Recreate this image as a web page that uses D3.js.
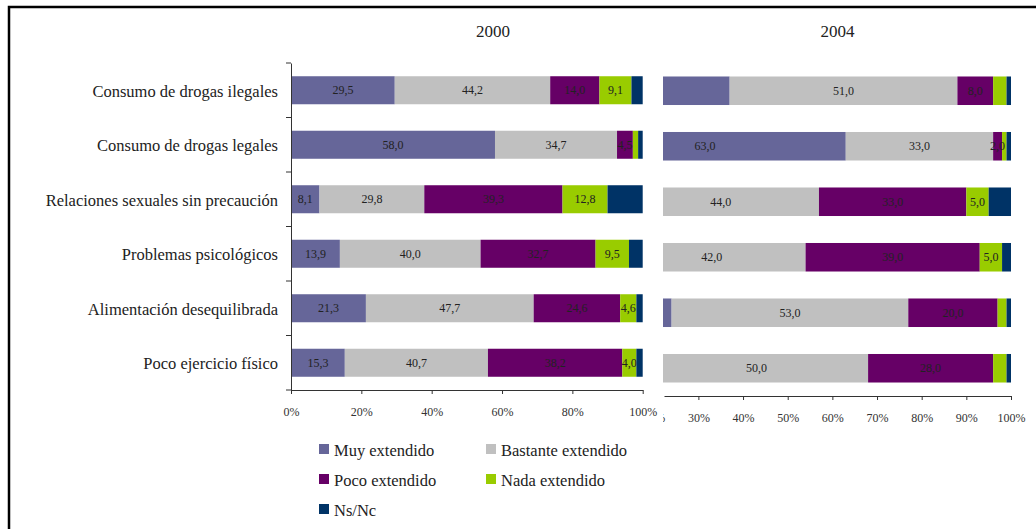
<!DOCTYPE html>
<html>
<head>
<meta charset="utf-8">
<script src="https://cdn.jsdelivr.net/npm/d3@7"></script>
<style>
  html, body { margin: 0; padding: 0; background: #fff; }
  svg { display: block; font-family: "Liberation Serif", "Times New Roman", serif; }
</style>
</head>
<body>
<svg id="chart" width="1036" height="529"></svg>
<script>
// ---------- DATA ----------
const categories = [
  "Consumo de drogas ilegales",
  "Consumo de drogas legales",
  "Relaciones sexuales sin precaución",
  "Problemas psicológicos",
  "Alimentación desequilibrada",
  "Poco ejercicio físico"
];
const seriesNames = ["Muy extendido", "Bastante extendido", "Poco extendido", "Nada extendido", "Ns/Nc"];
const seriesColors = ["#666699", "#C0C0C0", "#660066", "#99CC00", "#003366"];

// 2000 (values per category, per series)
const muy2000      = [29.5, 58.0,  8.1, 13.9, 21.3, 15.3];
const bastante2000 = [44.2, 34.7, 29.8, 40.0, 47.7, 40.7];
const poco2000     = [14.0,  4.5, 39.3, 32.7, 24.6, 38.2];
const nada2000     = [ 9.1,  1.5, 12.8,  9.5,  4.6,  4.0];
const nsnc2000     = [ 3.2,  1.3, 10.0,  3.9,  1.8,  1.8];
// which data labels are printed in 2000 (1 = shown)
const showMuy2000 = [1,1,1,1,1,1], showBas2000 = [1,1,1,1,1,1], showPoco2000 = [1,1,1,1,1,1],
      showNada2000 = [1,0,1,1,1,1], showNs2000 = [0,0,0,0,0,0];

// 2004
const muy2004      = [37, 63, 13, 12, 24, 18];
const bastante2004 = [51, 33, 44, 42, 53, 50];
const poco2004     = [ 8,  2, 33, 39, 20, 28];
const nada2004     = [ 3,  1,  5,  5,  2,  3];
const nsnc2004     = [ 1,  1,  5,  2,  1,  1];
const showMuy2004 = [1,1,1,1,1,1], showBas2004 = [1,1,1,1,1,1], showPoco2004 = [1,1,1,1,1,1],
      showNada2004 = [0,0,1,1,0,0], showNs2004 = [0,0,0,0,0,0];

const ticks2000 = [0, 20, 40, 60, 80, 100];
const ticks2004 = [20, 30, 40, 50, 60, 70, 80, 90, 100];
const years = ["2000", "2004"];

// ---------- BUILD ----------
function buildRows(vals, shows) {
  return categories.map((c, i) => {
    let acc = 0;
    return vals.map((arr, s) => {
      const seg = { cat: c, s, v: arr[i], x0: acc, x1: acc + arr[i], show: shows[s][i] };
      acc += arr[i];
      return seg;
    });
  }).flat();
}
const data2000 = buildRows([muy2000, bastante2000, poco2000, nada2000, nsnc2000],
  [showMuy2000, showBas2000, showPoco2000, showNada2000, showNs2000]);
const data2004 = buildRows([muy2004, bastante2004, poco2004, nada2004, nsnc2004],
  [showMuy2004, showBas2004, showPoco2004, showNada2004, showNs2004]);

const svg = d3.select("#chart");
const fmt = v => d3.format(".1f")(v).replace(".", ",");
const color = d3.scaleOrdinal().domain(d3.range(5)).range(seriesColors);

// outer frame (left and top edges)
svg.append("path")
  .attr("d", "M9,529 L9,7 L1036,7")
  .attr("fill", "none").attr("stroke", "#000").attr("stroke-width", 2.5);

// ---------- PANEL 2000 ----------
const x0 = d3.scaleLinear().domain([0, 100]).range([291, 642.7]);
const y0 = d3.scaleBand().domain(categories).range([63, 390]).paddingInner(0.486).paddingOuter(0.243);

const g0 = svg.append("g");
g0.selectAll("rect").data(data2000).join("rect")
  .attr("x", d => x0(d.x0)).attr("width", d => x0(d.x1) - x0(d.x0))
  .attr("y", d => y0(d.cat)).attr("height", y0.bandwidth())
  .attr("fill", d => color(d.s));
g0.selectAll("text.lab").data(data2000.filter(d => d.show)).join("text")
  .attr("class", "lab")
  .attr("x", d => x0((d.x0 + d.x1) / 2)).attr("y", d => y0(d.cat) + y0.bandwidth() / 2)
  .attr("text-anchor", "middle").attr("dominant-baseline", "central")
  .attr("font-size", 12).attr("fill", "#222").text(d => fmt(d.v));

// axes 2000
const xAxis0 = g0.append("g").attr("transform", "translate(0,390)")
  .call(d3.axisBottom(x0).tickValues(ticks2000).tickSize(4).tickSizeOuter(0).tickFormat(d => d + "%"));
const yAxis0 = g0.append("g").attr("transform", "translate(291,0)")
  .call(d3.axisLeft(y0).tickSize(0).tickFormat(""));
// category separators on y axis
const yTickPos = d3.range(0, 7).map(i => 63 + i * y0.step());
g0.append("g").selectAll("line").data(yTickPos).join("line")
  .attr("x1", 286).attr("x2", 291).attr("y1", d => d).attr("y2", d => d)
  .attr("stroke", "#333");
[xAxis0, yAxis0].forEach(a => {
  a.selectAll("path.domain").attr("stroke", "#333");
  a.selectAll("line").attr("stroke", "#333");
  a.selectAll("text").attr("font-size", 12).attr("fill", "#333")
    .attr("font-family", "Liberation Serif, serif");
});
xAxis0.selectAll("text").attr("dy", "1.55em");

// category labels
svg.append("g").selectAll("text").data(categories).join("text")
  .attr("x", 278).attr("y", d => y0(d) + y0.bandwidth() / 2 + 1)
  .attr("text-anchor", "end").attr("dominant-baseline", "central")
  .attr("font-size", 16.5).attr("fill", "#222").text(d => d);

// ---------- PANEL 2004 (cropped on the left) ----------
const x1 = d3.scaleLinear().domain([22.3, 100]).range([664, 1011]);
const y1 = d3.scaleBand().domain(categories).range([63, 396]).paddingInner(0.486).paddingOuter(0.243);

svg.append("clipPath").attr("id", "clip2004")
  .append("rect").attr("x", 663).attr("y", 0).attr("width", 373).attr("height", 529);
const g1 = svg.append("g").attr("clip-path", "url(#clip2004)");
g1.selectAll("rect").data(data2004).join("rect")
  .attr("x", d => x1(d.x0)).attr("width", d => x1(d.x1) - x1(d.x0))
  .attr("y", d => y1(d.cat)).attr("height", y1.bandwidth())
  .attr("fill", d => color(d.s));
g1.selectAll("text.lab").data(data2004.filter(d => d.show)).join("text")
  .attr("class", "lab")
  .attr("x", d => x1((d.x0 + d.x1) / 2)).attr("y", d => y1(d.cat) + y1.bandwidth() / 2)
  .attr("text-anchor", "middle").attr("dominant-baseline", "central")
  .attr("font-size", 12).attr("fill", "#222").text(d => fmt(d.v));
const xAxis1 = g1.append("g").attr("transform", "translate(0,396)")
  .call(d3.axisBottom(x1).tickValues(ticks2004).tickSize(4).tickSizeOuter(0).tickFormat(d => d + "%"));
xAxis1.selectAll("path.domain").attr("stroke", "#333");
xAxis1.selectAll("line").attr("stroke", "#333");
xAxis1.selectAll("text").attr("font-size", 12).attr("fill", "#333")
  .attr("font-family", "Liberation Serif, serif").attr("dy", "1.55em");

// ---------- TITLES ----------
svg.append("text").attr("x", 493).attr("y", 31).attr("text-anchor", "middle")
  .attr("dominant-baseline", "central").attr("font-size", 17).attr("fill", "#222").text(years[0]);
svg.append("text").attr("x", 837.5).attr("y", 31).attr("text-anchor", "middle")
  .attr("dominant-baseline", "central").attr("font-size", 17).attr("fill", "#222").text(years[1]);

// ---------- LEGEND ----------
const legendPos = [[319, 449], [486, 449], [319, 479], [486, 479], [319, 509]];
const lg = svg.append("g").selectAll("g").data(seriesNames).join("g")
  .attr("transform", (d, i) => `translate(${legendPos[i][0]},${legendPos[i][1]})`);
lg.append("rect").attr("x", 0).attr("y", -5).attr("width", 10).attr("height", 10)
  .attr("fill", (d, i) => seriesColors[i]);
lg.append("text").attr("x", 15).attr("y", 1).attr("dominant-baseline", "central")
  .attr("font-size", 16.5).attr("fill", "#222").text(d => d);
</script>
</body>
</html>
